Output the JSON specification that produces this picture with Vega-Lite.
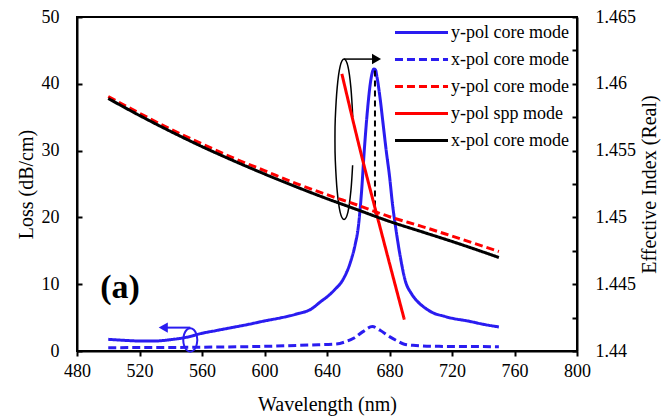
{
 "$schema": "https://vega.github.io/schema/vega-lite/v6.json",
 "autosize": {"type": "none"},
 "padding": {"left": 77, "top": 17, "right": 84, "bottom": 67},
 "width": 500,
 "height": 334,
 "background": "white",
 "config": {
  "view": {"stroke": "black", "strokeWidth": 2},
  "font": "Liberation Serif",
  "axis": {"domainColor": "black", "domainWidth": 2, "tickColor": "black", "tickWidth": 2, "tickSize": 5, "labelColor": "black", "titleColor": "black", "labelFont": "Liberation Serif", "titleFont": "Liberation Serif", "labelFontSize": 18, "titleFontSize": 20, "titleFontWeight": "normal", "grid": false}
 },
 "datasets": {
  "loss": [
   {"series": "A", "wavelength": 500, "loss": 1.75},
   {"series": "A", "wavelength": 510, "loss": 1.6},
   {"series": "A", "wavelength": 520, "loss": 1.5},
   {"series": "A", "wavelength": 530, "loss": 1.5},
   {"series": "A", "wavelength": 540, "loss": 1.7},
   {"series": "A", "wavelength": 550, "loss": 2.05},
   {"series": "A", "wavelength": 560, "loss": 2.65},
   {"series": "A", "wavelength": 570, "loss": 3.1},
   {"series": "A", "wavelength": 580, "loss": 3.55},
   {"series": "A", "wavelength": 590, "loss": 4.0},
   {"series": "A", "wavelength": 600, "loss": 4.5},
   {"series": "A", "wavelength": 610, "loss": 4.95},
   {"series": "A", "wavelength": 620, "loss": 5.5},
   {"series": "A", "wavelength": 630, "loss": 6.3},
   {"series": "A", "wavelength": 636, "loss": 7.4},
   {"series": "A", "wavelength": 640, "loss": 8.1},
   {"series": "A", "wavelength": 645, "loss": 9.2},
   {"series": "A", "wavelength": 650, "loss": 10.6},
   {"series": "A", "wavelength": 655, "loss": 13.3},
   {"series": "A", "wavelength": 658, "loss": 15.9},
   {"series": "A", "wavelength": 660, "loss": 18.5},
   {"series": "A", "wavelength": 662, "loss": 23.5},
   {"series": "A", "wavelength": 664, "loss": 30.5},
   {"series": "A", "wavelength": 666, "loss": 36.3},
   {"series": "A", "wavelength": 668, "loss": 40.5},
   {"series": "A", "wavelength": 670, "loss": 42.2},
   {"series": "A", "wavelength": 671, "loss": 42.1},
   {"series": "A", "wavelength": 672, "loss": 41.0},
   {"series": "A", "wavelength": 674, "loss": 37.8},
   {"series": "A", "wavelength": 676, "loss": 33.8},
   {"series": "A", "wavelength": 678, "loss": 29.8},
   {"series": "A", "wavelength": 680, "loss": 26.2},
   {"series": "A", "wavelength": 682, "loss": 21.8},
   {"series": "A", "wavelength": 684, "loss": 18.4},
   {"series": "A", "wavelength": 687, "loss": 14.0},
   {"series": "A", "wavelength": 690, "loss": 10.6},
   {"series": "A", "wavelength": 694, "loss": 8.6},
   {"series": "A", "wavelength": 698, "loss": 7.4},
   {"series": "A", "wavelength": 703, "loss": 6.4},
   {"series": "A", "wavelength": 708, "loss": 5.7},
   {"series": "A", "wavelength": 715, "loss": 5.2},
   {"series": "A", "wavelength": 720, "loss": 4.9},
   {"series": "A", "wavelength": 730, "loss": 4.5},
   {"series": "A", "wavelength": 740, "loss": 4.0},
   {"series": "A", "wavelength": 750, "loss": 3.6},
   {"series": "B", "wavelength": 500, "loss": 0.5},
   {"series": "B", "wavelength": 550, "loss": 0.55},
   {"series": "B", "wavelength": 600, "loss": 0.7},
   {"series": "B", "wavelength": 630, "loss": 0.9},
   {"series": "B", "wavelength": 646, "loss": 1.05},
   {"series": "B", "wavelength": 652, "loss": 1.4},
   {"series": "B", "wavelength": 657, "loss": 1.9},
   {"series": "B", "wavelength": 663, "loss": 2.9},
   {"series": "B", "wavelength": 669, "loss": 3.65},
   {"series": "B", "wavelength": 674, "loss": 3.1},
   {"series": "B", "wavelength": 680, "loss": 2.15},
   {"series": "B", "wavelength": 685, "loss": 1.5},
   {"series": "B", "wavelength": 689, "loss": 1.05},
   {"series": "B", "wavelength": 695, "loss": 0.85},
   {"series": "B", "wavelength": 710, "loss": 0.7},
   {"series": "B", "wavelength": 750, "loss": 0.65}
  ],
  "index": [
   {"series": "C", "wavelength": 500, "neff": 1.45905},
   {"series": "C", "wavelength": 520, "neff": 1.4578},
   {"series": "C", "wavelength": 540, "neff": 1.4566},
   {"series": "C", "wavelength": 560, "neff": 1.4555},
   {"series": "C", "wavelength": 580, "neff": 1.45445},
   {"series": "C", "wavelength": 600, "neff": 1.4535},
   {"series": "C", "wavelength": 620, "neff": 1.45255},
   {"series": "C", "wavelength": 640, "neff": 1.4517},
   {"series": "C", "wavelength": 660, "neff": 1.4509},
   {"series": "C", "wavelength": 680, "neff": 1.45005},
   {"series": "C", "wavelength": 700, "neff": 1.44935},
   {"series": "C", "wavelength": 720, "neff": 1.4486},
   {"series": "C", "wavelength": 750, "neff": 1.44745},
   {"series": "D", "wavelength": 649.5, "neff": 1.46075},
   {"series": "D", "wavelength": 661, "neff": 1.45515},
   {"series": "D", "wavelength": 676, "neff": 1.44835},
   {"series": "D", "wavelength": 689.5, "neff": 1.44235},
   {"series": "E", "wavelength": 500, "neff": 1.4589},
   {"series": "E", "wavelength": 520, "neff": 1.45763},
   {"series": "E", "wavelength": 540, "neff": 1.45643},
   {"series": "E", "wavelength": 560, "neff": 1.4553},
   {"series": "E", "wavelength": 580, "neff": 1.45425},
   {"series": "E", "wavelength": 600, "neff": 1.45325},
   {"series": "E", "wavelength": 620, "neff": 1.4523},
   {"series": "E", "wavelength": 640, "neff": 1.4514},
   {"series": "E", "wavelength": 660, "neff": 1.45055},
   {"series": "E", "wavelength": 680, "neff": 1.4497},
   {"series": "E", "wavelength": 700, "neff": 1.44895},
   {"series": "E", "wavelength": 720, "neff": 1.4482},
   {"series": "E", "wavelength": 750, "neff": 1.447}
  ],
  "ellipses": [
   {"shape": "big", "ord": 1, "wavelength": 656.5, "loss": 35.0},
   {"shape": "big", "ord": 2, "wavelength": 655.3, "loss": 39.4},
   {"shape": "big", "ord": 3, "wavelength": 653.4, "loss": 42.6},
   {"shape": "big", "ord": 4, "wavelength": 650.9, "loss": 43.7},
   {"shape": "big", "ord": 5, "wavelength": 648.4, "loss": 42.6},
   {"shape": "big", "ord": 6, "wavelength": 646.5, "loss": 39.4},
   {"shape": "big", "ord": 7, "wavelength": 645.3, "loss": 34.8},
   {"shape": "big", "ord": 8, "wavelength": 645.1, "loss": 31.7},
   {"shape": "big", "ord": 9, "wavelength": 645.3, "loss": 28.6},
   {"shape": "big", "ord": 10, "wavelength": 646.5, "loss": 24.0},
   {"shape": "big", "ord": 11, "wavelength": 648.4, "loss": 20.8},
   {"shape": "big", "ord": 12, "wavelength": 650.9, "loss": 19.7},
   {"shape": "big", "ord": 13, "wavelength": 653.4, "loss": 20.8},
   {"shape": "big", "ord": 14, "wavelength": 655.3, "loss": 24.0},
   {"shape": "big", "ord": 15, "wavelength": 656.4, "loss": 27.8},
   {"shape": "small", "ord": 1, "wavelength": 557.0, "loss": 1.65},
   {"shape": "small", "ord": 2, "wavelength": 556.4, "loss": 2.53},
   {"shape": "small", "ord": 3, "wavelength": 554.75, "loss": 3.17},
   {"shape": "small", "ord": 4, "wavelength": 552.5, "loss": 3.4},
   {"shape": "small", "ord": 5, "wavelength": 550.25, "loss": 3.17},
   {"shape": "small", "ord": 6, "wavelength": 548.6, "loss": 2.53},
   {"shape": "small", "ord": 7, "wavelength": 548.0, "loss": 1.65},
   {"shape": "small", "ord": 8, "wavelength": 548.6, "loss": 0.78},
   {"shape": "small", "ord": 9, "wavelength": 550.25, "loss": 0.13},
   {"shape": "small", "ord": 10, "wavelength": 552.5, "loss": -0.1},
   {"shape": "small", "ord": 11, "wavelength": 554.75, "loss": 0.13},
   {"shape": "small", "ord": 12, "wavelength": 556.4, "loss": 0.78},
   {"shape": "small", "ord": 13, "wavelength": 557.0, "loss": 1.65}
  ]
 },
 "layer": [
  {
   "layer": [
    {
     "data": {"name": "loss"},
     "mark": {"type": "line", "strokeWidth": 3, "interpolate": "monotone"},
     "encoding": {
      "x": {"field": "wavelength", "type": "quantitative", "scale": {"domain": [480, 800], "nice": false},
            "axis": {"title": "Wavelength (nm)", "values": [480, 500, 520, 540, 560, 580, 600, 620, 640, 660, 680, 700, 720, 740, 760, 780, 800], "labelExpr": "datum.value % 40 == 0 ? datum.label : ''", "labelPadding": 6, "titlePadding": 14, "labelFlush": false, "labelOverlap": false}},
      "y": {"field": "loss", "type": "quantitative", "scale": {"domain": [0, 50], "nice": false},
            "axis": {"title": "Loss (dB/cm)", "values": [0, 5, 10, 15, 20, 25, 30, 35, 40, 45, 50], "labelExpr": "datum.value % 10 == 0 ? datum.label : ''", "tickSize": -5, "labelPadding": 23, "titlePadding": 5, "labelFlush": false, "labelOverlap": false}},
      "color": {"field": "series", "type": "nominal", "scale": {"domain": ["A", "B", "C", "D", "E"], "range": ["#2a1cf0", "#2a1cf0", "#ff0000", "#ff0000", "#000000"]},
                "legend": {"title": null, "orient": "none", "legendX": 332, "legendY": 3, "symbolType": "M-2.5,0H2.5", "symbolSize": 450, "symbolStrokeWidth": 3, "labelFontSize": 18, "labelFont": "Liberation Serif", "labelColor": "black", "labelOffset": 17, "rowPadding": 5, "padding": 0, "labelExpr": "datum.label == 'A' ? 'y-pol core mode' : datum.label == 'B' ? 'x-pol core mode' : datum.label == 'C' ? 'y-pol core mode' : datum.label == 'D' ? 'y-pol spp mode' : 'x-pol core mode'"}},
      "strokeDash": {"field": "series", "type": "nominal", "scale": {"domain": ["A", "B", "C", "D", "E"], "range": [[1, 0], [8, 4], [8, 4], [1, 0], [1, 0]]},
                "legend": {"title": null, "orient": "none", "legendX": 332, "legendY": 3, "symbolType": "M-2.5,0H2.5", "symbolSize": 450, "symbolStrokeWidth": 3, "labelFontSize": 18, "labelFont": "Liberation Serif", "labelColor": "black", "labelOffset": 17, "rowPadding": 5, "padding": 0, "labelExpr": "datum.label == 'A' ? 'y-pol core mode' : datum.label == 'B' ? 'x-pol core mode' : datum.label == 'C' ? 'y-pol core mode' : datum.label == 'D' ? 'y-pol spp mode' : 'x-pol core mode'"}}
     }
    },
    {
     "data": {"name": "ellipses"},
     "transform": [{"filter": "datum.shape == 'big'"}],
     "mark": {"type": "line", "color": "black", "strokeWidth": 1.5, "interpolate": "cardinal"},
     "encoding": {
      "x": {"field": "wavelength", "type": "quantitative"},
      "y": {"field": "loss", "type": "quantitative"},
      "order": {"field": "ord", "type": "quantitative"}
     }
    },
    {
     "data": {"name": "ellipses"},
     "transform": [{"filter": "datum.shape == 'small'"}],
     "mark": {"type": "line", "color": "#2a1cf0", "strokeWidth": 2, "interpolate": "cardinal"},
     "encoding": {
      "x": {"field": "wavelength", "type": "quantitative"},
      "y": {"field": "loss", "type": "quantitative"},
      "order": {"field": "ord", "type": "quantitative"}
     }
    },
    {
     "data": {"values": [{}]},
     "mark": {"type": "rule", "color": "black", "strokeWidth": 1.5},
     "encoding": {"x": {"datum": 650.9}, "x2": {"datum": 671}, "y": {"datum": 43.7}}
    },
    {
     "data": {"values": [{}]},
     "mark": {"type": "point", "shape": "triangle-right", "filled": true, "color": "black", "size": 110, "opacity": 1},
     "encoding": {"x": {"datum": 671.7}, "y": {"datum": 43.7}}
    },
    {
     "data": {"values": [{}]},
     "mark": {"type": "rule", "color": "#2a1cf0", "strokeWidth": 2},
     "encoding": {"x": {"datum": 552.5}, "x2": {"datum": 537}, "y": {"datum": 3.5}}
    },
    {
     "data": {"values": [{}]},
     "mark": {"type": "point", "shape": "triangle-left", "filled": true, "color": "#2a1cf0", "size": 110, "opacity": 1},
     "encoding": {"x": {"datum": 535.2}, "y": {"datum": 3.5}}
    },
    {
     "data": {"values": [{}]},
     "mark": {"type": "rule", "color": "black", "strokeWidth": 2, "strokeDash": [6, 4]},
     "encoding": {"x": {"datum": 670.7}, "y": {"datum": 42}, "y2": {"datum": 20.6}}
    },
    {
     "data": {"values": [{}]},
     "mark": {"type": "text", "text": "(a)", "font": "Liberation Serif", "fontSize": 34, "fontWeight": "bold", "color": "black", "align": "center", "baseline": "middle"},
     "encoding": {"x": {"datum": 507.5}, "y": {"datum": 9.4}}
    }
   ]
  },
  {
   "data": {"name": "index"},
   "mark": {"type": "line", "strokeWidth": 3, "interpolate": "monotone"},
   "encoding": {
    "x": {"field": "wavelength", "type": "quantitative"},
    "y": {"field": "neff", "type": "quantitative", "scale": {"domain": [1.44, 1.465], "nice": false, "zero": false},
          "axis": {"orient": "right", "title": "Effective Index (Real)", "titleAngle": 270, "values": [1.44, 1.4425, 1.445, 1.4475, 1.45, 1.4525, 1.455, 1.4575, 1.46, 1.4625, 1.465], "format": "~g", "labelExpr": "abs(round(datum.value * 10000)) % 50 == 0 ? datum.label : ''", "tickSize": -5, "labelPadding": 23, "titlePadding": 24, "labelFlush": false, "labelOverlap": false}},
    "color": {"field": "series", "type": "nominal"},
    "strokeDash": {"field": "series", "type": "nominal"}
   }
  }
 ],
 "resolve": {"scale": {"y": "independent"}}
}
